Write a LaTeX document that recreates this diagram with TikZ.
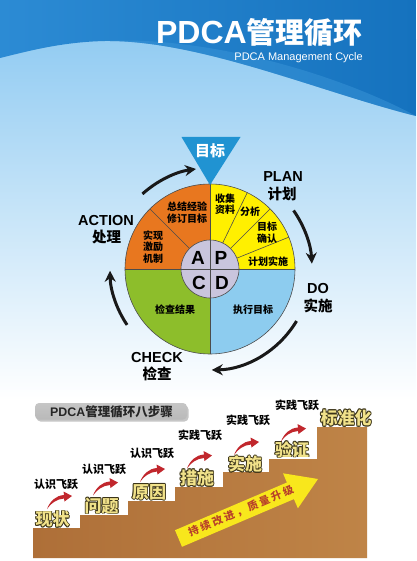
\documentclass[tikz,border=0pt]{standalone}
\usepackage{fontspec}
\setmainfont{Liberation Sans}
\newfontfamily\cjk{Noto Sans CJK SC}
\newfontfamily\cjkw{Noto Sans CJK SC}[LetterSpace=22]
\usetikzlibrary{arrows.meta}
\definecolor{topdark}{HTML}{1572BE}
\definecolor{topmid}{HTML}{2C8BD4}
\definecolor{topband}{HTML}{3A95D8}
\definecolor{skyl}{HTML}{93CCF2}
\definecolor{qorange}{HTML}{E8771F}
\definecolor{qyellow}{HTML}{FFF000}
\definecolor{qgreen}{HTML}{8DBE2B}
\definecolor{qblue}{HTML}{8DCCEF}
\definecolor{qinner}{HTML}{C9C5DD}
\definecolor{tri}{HTML}{2093D2}
\definecolor{stairl}{HTML}{AE6F38}
\definecolor{stairr}{HTML}{BF8447}
\definecolor{redarr}{HTML}{C1272D}
\definecolor{bigyel}{HTML}{F8E71C}
\definecolor{bigtxt}{HTML}{B8402A}
\definecolor{lblyel}{HTML}{F1E28A}
\definecolor{lblout}{HTML}{3B3418}
\newcommand\fsz[1]{\fontsize{#1}{#1}\selectfont}
\newcommand\steplab[4]{%
  \foreach \dx/\dy in {-0.8/0,0.8/0,0/-0.8,0/0.8,-0.6/-0.6,0.6/0.6,-0.6/0.6,0.6/-0.6}
    {\node[stl, text=lblout, xshift=\dx pt, yshift=\dy pt] at (#1,#2) {#4};}
  \node[stl, text=lblyel] (#3) at (#1,#2) {#4};}
\begin{document}
\begin{tikzpicture}[x=1pt,y=-1pt,
  segline/.style={draw=black!70, line width=0.6pt},
  seg/.style={font=\cjk\bfseries\fontsize{10}{11.5}\selectfont, align=center, inner sep=0pt},
  apcd/.style={font=\bfseries\fsz{19}, inner sep=0pt},
  outl/.style={font=\bfseries\fsz{14.5}, inner sep=0pt},
  outc/.style={font=\cjk\bfseries\fsz{14.5}, inner sep=0pt},
  cyc/.style={line width=3pt, draw=black!90, -{Stealth[length=11pt,width=11pt]}},
  leap/.style={font=\cjk\bfseries\fsz{11}, inner sep=0pt},
  stl/.style={font=\cjk\bfseries\fsz{17}, inner sep=0pt}
]
\useasboundingbox (0,0) rectangle (416,561);
% background
\fill[white] (0,0) rectangle (416,561);
\shade[top color=skyl, bottom color=white] (0,40) rectangle (416,400);
\shade[left color=topmid, right color=topdark] (0,0) -- (416,0) -- (416,116)
  .. controls (320,92) and (200,40) .. (105,41) .. controls (60,42) and (25,52) .. (0,58) -- cycle;
\fill[topband, opacity=0.5] (105,41) .. controls (200,36) and (330,70) .. (416,116)
  .. controls (320,92) and (200,40) .. (105,41) -- cycle;
% title
\node[anchor=base east, inner sep=0pt, text=white] (title) at (363,43.5)
  {{\bfseries\fsz{32}PDCA}{\cjk\bfseries\fsz{29}管理循环}};
\node[anchor=base east, inner sep=0pt, text=white, font=\fsz{11}] (subtitle) at (363,61) {PDCA Management Cycle};
% circle
\begin{scope}[shift={(210,269)}]
  \fill[qyellow] (0,0) -- (0:85) arc[start angle=0,end angle=-90,radius=85] -- cycle;
  \fill[qorange] (0,0) -- (-90:85) arc[start angle=-90,end angle=-180,radius=85] -- cycle;
  \fill[qgreen] (0,0) -- (180:85) arc[start angle=180,end angle=90,radius=85] -- cycle;
  \fill[qblue] (0,0) -- (90:85) arc[start angle=90,end angle=0,radius=85] -- cycle;
  \foreach \a in {-64,-45,-22,-135} \draw[segline] (\a:29) -- (\a:85);
  \draw[segline] (0,-85) -- (0,85);
  \draw[segline] (-85,0) -- (85,0);
  \draw[segline] (0,0) circle[radius=85];
  \fill[qinner] (0,0) circle[radius=29];
  \draw[segline] (0,0) circle[radius=29];
  \draw[segline] (0,-29) -- (0,29);
  \draw[segline] (-29,0) -- (29,0);
  % cycle arrows
  \draw[cyc] (-132:101) arc[start angle=-132,end angle=-98,radius=101];
  \draw[cyc] (-35:102) arc[start angle=-35,end angle=-3,radius=102];
  \draw[cyc] (31:101) arc[start angle=31,end angle=89,radius=101];
  \draw[cyc] (146:100) arc[start angle=146,end angle=179,radius=100];
\end{scope}
% goal triangle
\fill[tri] (181.5,137) -- (240.5,137) -- (210,185) -- cycle;
\node[font=\cjk\bfseries\fsz{15}, text=white, inner sep=0pt] (goal) at (210,151) {目标};
% segment texts
\node[seg] (s1) at (225,204) {收集\\资料};
\node[seg] (s2) at (250,212) {分析};
\node[seg] (s3) at (267,232.5) {目标\\确认};
\node[seg] (s4) at (268,262) {计划实施};
\node[seg] (s5) at (187,212.5) {总结经验\\修订目标};
\node[seg] (s6) at (153,246.7) {实现\\激励\\机制};
\node[seg] (s7) at (175,310) {检查结果};
\node[seg] (s8) at (253,310) {执行目标};
\node[apcd] (lA) at (198,258) {A};
\node[apcd] (lP) at (221,258) {P};
\node[apcd] (lC) at (199,283) {C};
\node[apcd] (lD) at (222,283) {D};
% outer labels
\node[outl] (plan) at (283,177) {PLAN};
\node[outc] (planc) at (282,194) {计划};
\node[outl] (do) at (318,289) {DO};
\node[outc] (doc) at (318,305.5) {实施};
\node[outl] (check) at (157,358) {CHECK};
\node[outc] (checkc) at (157,373.5) {检查};
\node[outl] (action) at (106,221) {ACTION};
\node[outc] (actionc) at (106.5,237) {处理};
% banner
\fill[gray!45, rounded corners=4pt] (36.5,405.5) rectangle (188.5,421.5);
\shade[rounded corners=4pt, top color=gray!45, middle color=gray!8, bottom color=gray!55] (35,403) rectangle (187,419.5);
\node[inner sep=0pt, text=black!85] (banner) at (111.5,411.5)
  {{\bfseries\fsz{12.4}PDCA}{\cjk\bfseries\fsz{12.5}管理循环八步骤}};
% stairs
\shade[left color=stairl, right color=stairr] (33,558) -- (33,528) -- (80,528) -- (80,515) -- (128,515) -- (128,501)
  -- (175,501) -- (175,487) -- (223,487) -- (223,472) -- (269,472) -- (269,459)
  -- (317,459) -- (317,427) -- (367,427) -- (367,558) -- cycle;
% big yellow arrow
\fill[bigyel] (175.0,530.2) -- (286.9,482.5) -- (283.0,473.3) -- (318,479) -- (297.9,508.3) -- (293.9,499.1) -- (182.0,546.8) -- cycle;
\node[rotate=23, text=bigtxt, font=\cjkw\bfseries\fsz{10.5}, inner sep=0pt] (improve) at (241,511) {持续改进，质量升级};
% leap labels
\node[leap] (lp1) at (56,484) {认识飞跃};
\node[leap] (lp2) at (104,469.5) {认识飞跃};
\node[leap] (lp3) at (152,453) {认识飞跃};
\node[leap] (lp4) at (200,435) {实践飞跃};
\node[leap] (lp5) at (248,420.5) {实践飞跃};
\node[leap] (lp6) at (297,405) {实践飞跃};
% step labels
\steplab{52.5}{519.5}{st1}{现状}
\steplab{101.7}{505.7}{st2}{问题}
\steplab{149}{492}{st3}{原因}
\steplab{197}{478}{st4}{措施}
\steplab{245}{464}{st5}{实施}
\steplab{292}{449.5}{st6}{验证}
\steplab{346}{418}{st7}{标准化}
% red swoosh arrows
\foreach \tx/\ty in {47/509, 93/495.5, 140/482, 187/468.5, 234/455, 281/441.5}
  \fill[redarr, shift={(\tx,\ty)}] (0,0) .. controls (3,-8) and (9,-13.5) .. (17,-14) -- (16.5,-17.5)
    -- (25,-13) -- (17.5,-7.5) -- (17,-10.5) .. controls (10,-10) and (4,-6) .. (0,0) -- cycle;
\end{tikzpicture}
\end{document}
